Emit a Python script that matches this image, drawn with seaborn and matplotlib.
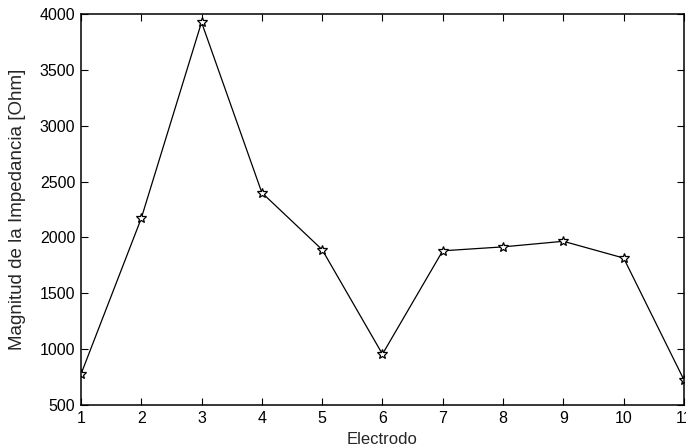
import numpy as np
import pandas as pd
import matplotlib
matplotlib.use('Agg')
import matplotlib.pyplot as plt
import seaborn as sns

# Impedance magnitude per electrode
electrodos = [1, 2, 3, 4, 5, 6, 7, 8, 9, 10, 11]
impedancia = [775, 2170, 3925, 2400, 1890, 955, 1880, 1915, 1965, 1815, 725]
y_ticks = [500, 1000, 1500, 2000, 2500, 3000, 3500, 4000]

df = pd.DataFrame({'Electrodo': electrodos, 'Impedancia': impedancia})

sns.set_style('ticks')
plt.rcParams['font.family'] = ['Liberation Sans', 'DejaVu Sans']

fig = plt.figure(figsize=(6.86, 4.48), dpi=100)
ax = fig.add_axes([0.118, 0.096, 0.879, 0.873])

sns.lineplot(data=df, x='Electrodo', y='Impedancia', ax=ax, color='black',
             linewidth=0.9, marker='*', markersize=7, markerfacecolor='white',
             markeredgecolor='black', markeredgewidth=0.9)

ax.set_xlim(1, 11)
ax.set_ylim(500, 4000)
ax.set_xticks(electrodos)
ax.set_yticks(y_ticks)
ax.tick_params(direction='in', top=True, right=True, length=5, width=0.8,
               labelsize=11.5, pad=4, colors='black')
for s in ax.spines.values():
    s.set_visible(True)
    s.set_linewidth(1.1)
    s.set_color('black')

ax.set_xlabel('Electrodo', fontsize=12, labelpad=5)
ax.set_ylabel('Magnitud de la Impedancia [Ohm]', fontsize=13.5, labelpad=10)

plt.savefig('out.png', dpi=100)
